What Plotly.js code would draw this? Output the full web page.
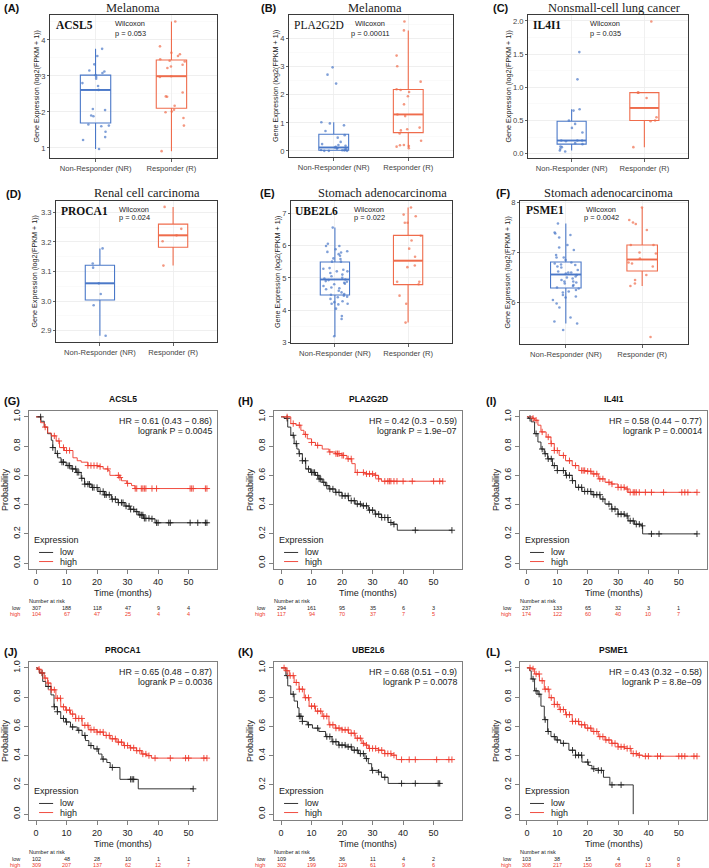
<!DOCTYPE html>
<html><head><meta charset="utf-8">
<script src="https://cdn.plot.ly/plotly-3.0.1.min.js"></script>
<style>html,body{margin:0;padding:0;background:#fff}#chart{width:709px;height:868px}</style>
</head><body><div id="chart"></div>
<script>
// ---------------- DATA ----------------
const groupLabels = ['Non-Responder (NR)', 'Responder (R)'];
const boxLetters = ['(A)', '(B)', '(C)', '(D)', '(E)', '(F)'];
const boxCancers = ['Melanoma', 'Melanoma', 'Nonsmall-cell lung cancer', 'Renal cell carcinoma', 'Stomach adenocarcinoma', 'Stomach adenocarcinoma'];
const boxGenes = ['ACSL5', 'PLA2G2D', 'IL4I1', 'PROCA1', 'UBE2L6', 'PSME1'];
const wilcoxonP = ['0.053', '0.00011', '0.035', '0.024', '0.022', '0.0042'];
// box statistics per panel: [NR, R]
const boxQ1 = [[1.69, 2.10], [0.02, 0.65], [0.145, 0.50], [3.004, 3.182], [4.47, 4.79], [6.29, 6.63]];
const boxMedian = [[2.61, 2.99], [0.12, 1.30], [0.20, 0.69], [3.06, 3.222], [4.95, 5.53], [6.56, 6.86]];
const boxQ3 = [[3.02, 3.44], [0.59, 2.19], [0.49, 0.92], [3.121, 3.26], [5.49, 6.31], [6.81, 7.15]];
const boxLow = [[0.97, 0.91], [0.0, 0.11], [0.05, 0.10], [2.883, 3.12], [3.2, 3.62], [5.58, 6.33]];
const boxHigh = [[3.75, 4.51], [1.02, 4.30], [0.67, 0.92], [3.178, 3.318], [6.55, 7.17], [7.58, 7.90]];
// sample points
const acsl5NR = [3.75, 3.55, 3.32, 3.15, 3.12, 3.08, 3.02, 2.97, 2.92, 2.80, 2.72, 2.61, 2.08, 2.05, 1.90, 1.88, 1.65, 1.62, 1.60, 1.45, 1.30, 1.22, 0.97];
const acsl5R = [4.51, 3.82, 3.64, 3.60, 3.55, 3.46, 3.42, 3.40, 3.31, 3.26, 3.22, 2.99, 2.97, 2.54, 2.43, 2.42, 2.17, 2.06, 2.01, 1.99, 1.83, 1.62, 0.91];
const pla2g2dNR = [2.98, 2.72, 2.40, 1.02, 0.98, 0.91, 0.71, 0.56, 0.47, 0.32, 0.24, 0.21, 0.18, 0.14, 0.12, 0.10, 0.08, 0.06, 0.05, 0.03, 0.02, 0.01, 0.0, 0.0, 0.0];
const pla2g2dR = [4.62, 4.30, 3.40, 3.02, 2.47, 2.20, 2.17, 2.10, 1.95, 1.66, 1.30, 1.24, 0.83, 0.77, 0.73, 0.62, 0.36, 0.21, 0.20, 0.17, 0.15, 0.09];
const il4i1NR = [1.53, 1.12, 0.67, 0.65, 0.50, 0.45, 0.39, 0.32, 0.20, 0.20, 0.19, 0.20, 0.16, 0.145, 0.11, 0.10, 0.075, 0.05, 0.035];
const il4i1R = [1.99, 0.92, 0.92, 0.84, 0.55, 0.50, 0.49, 0.10];
const proca1NR = [3.178, 3.127, 3.113, 3.06, 3.024, 2.986, 2.883];
const proca1R = [3.318, 3.244, 3.222, 3.202, 3.12];
const ube2l6NR = [6.55, 6.05, 5.98, 5.98, 5.88, 5.82, 5.80, 5.78, 5.73, 5.68, 5.60, 5.58, 5.50, 5.50, 5.30, 5.28, 5.25, 5.20, 5.20, 5.15, 5.10, 5.05, 5.00, 4.98, 4.95, 4.93, 4.90, 4.88, 4.85, 4.82, 4.80, 4.75, 4.70, 4.68, 4.65, 4.60, 4.55, 4.50, 4.48, 4.45, 4.42, 4.40, 4.35, 4.28, 4.25, 4.20, 4.20, 4.18, 4.05, 3.82, 3.73, 3.20];
const ube2l6R = [7.17, 6.95, 6.90, 6.70, 6.70, 6.30, 6.15, 5.90, 5.65, 5.38, 5.33, 4.88, 4.88, 4.80, 4.45, 4.20, 3.62];
const psme1NR = [7.58, 7.40, 7.38, 7.35, 7.30, 7.15, 7.10, 7.05, 6.95, 6.90, 6.90, 6.85, 6.80, 6.78, 6.76, 6.75, 6.72, 6.70, 6.65, 6.62, 6.60, 6.60, 6.58, 6.55, 6.52, 6.50, 6.48, 6.45, 6.42, 6.42, 6.40, 6.38, 6.35, 6.33, 6.30, 6.28, 6.25, 6.22, 6.20, 6.15, 6.12, 6.10, 6.05, 5.98, 5.90, 5.70, 5.62, 5.58, 5.45];
const psme1R = [7.90, 7.65, 7.60, 7.57, 7.45, 7.15, 7.15, 7.00, 6.98, 6.88, 6.80, 6.78, 6.72, 6.55, 6.45, 6.38, 6.33, 5.31];
const boxYTicks = [[1, 2, 3, 4], [0, 1, 2, 3, 4], [0, 0.5, 1, 1.5, 2], [2.9, 3.0, 3.1, 3.2, 3.3], [3, 4, 5, 6, 7], [6, 7, 8]];
const boxYTickText = [['1', '2', '3', '4'], ['0', '1', '2', '3', '4'], ['0.0', '0.5', '1.0', '1.5', '2.0'], ['2.9', '3.0', '3.1', '3.2', '3.3'], ['3', '4', '5', '6', '7'], ['6', '7', '8']];

// Kaplan-Meier
const kmLetters = ['(G)', '(H)', '(I)', '(J)', '(K)', '(L)'];
const kmGenes = ['ACSL5', 'PLA2G2D', 'IL4I1', 'PROCA1', 'UBE2L6', 'PSME1'];
const kmHR = ['HR = 0.61 (0.43 \u2212 0.86)', 'HR = 0.42 (0.3 \u2212 0.59)', 'HR = 0.58 (0.44 \u2212 0.77)', 'HR = 0.65 (0.48 \u2212 0.87)', 'HR = 0.68 (0.51 \u2212 0.9)', 'HR = 0.43 (0.32 \u2212 0.58)'];
const kmP = ['logrank P = 0.0045', 'logrank P = 1.9e\u221207', 'logrank P = 0.00014', 'logrank P = 0.0036', 'logrank P = 0.0078', 'logrank P = 8.8e\u221209'];
const riskTimes = [0, 10, 20, 30, 40, 50];
const riskLow = [[307, 188, 118, 47, 9, 4], [294, 161, 95, 35, 6, 3], [237, 133, 65, 32, 3, 1], [102, 48, 28, 10, 1, 1], [109, 56, 36, 11, 4, 2], [103, 38, 15, 4, 0, 0]];
const riskHigh = [[104, 67, 47, 25, 4, 4], [117, 94, 70, 37, 7, 5], [174, 122, 60, 40, 10, 7], [309, 207, 137, 62, 12, 7], [302, 199, 129, 61, 9, 6], [308, 217, 150, 68, 13, 8]];

const acsl5_lowT = [0, 1.6, 2.7, 3.8, 5.0, 5.5, 6.3, 7.1, 8.2, 9.9, 11.5, 13.2, 14.8, 15.9, 18.1, 20.3, 22.5, 24.7, 26.9, 29.1, 30.8, 32.4, 33.5, 35.2, 37.4, 39.0, 56.0];
const acsl5_lowS = [1.0, 0.97, 0.93, 0.885, 0.84, 0.79, 0.75, 0.72, 0.69, 0.667, 0.644, 0.62, 0.58, 0.54, 0.517, 0.49, 0.467, 0.437, 0.414, 0.39, 0.368, 0.352, 0.33, 0.306, 0.303, 0.276, 0.276];
const acsl5_highT = [0, 1.5, 2.7, 3.8, 5.0, 6.6, 7.7, 9.3, 12.1, 13.5, 14.8, 17.0, 20.3, 22.0, 23.6, 24.2, 27.5, 28.0, 29.7, 31.3, 32.4, 56.0];
const acsl5_highS = [1.0, 0.96, 0.93, 0.89, 0.87, 0.835, 0.79, 0.77, 0.72, 0.70, 0.69, 0.667, 0.66, 0.644, 0.632, 0.60, 0.585, 0.563, 0.545, 0.53, 0.51, 0.51];
const acsl5_lowC = [1.5, 5.5, 7, 8.5, 9, 10.5, 11, 12, 13, 13.5, 14, 15, 16, 17, 17.5, 18.5, 19, 20, 21, 22, 22.5, 23, 24, 25, 26, 27, 28, 28.5, 29.5, 30.5, 31, 32, 33, 34, 34.5, 35, 35.5, 36, 37, 38, 39.5, 40, 43.5, 44, 50.5, 53, 55.5, 56];
const acsl5_highC = [3, 6, 7.5, 9, 10, 11, 17, 18, 19, 20, 21, 23.5, 27, 27.5, 30, 32.5, 33, 34.5, 35, 35.5, 36, 38, 39.5, 50.5, 51, 51.5, 55.5, 56];

const pla2g2d_lowT = [0, 1.0, 2.2, 3.2, 4.3, 5.2, 5.9, 7.0, 8.1, 9.7, 11.3, 12.4, 13.5, 14.6, 15.7, 17.8, 20.0, 22.1, 24.3, 26.5, 28.6, 30.8, 32.9, 35.1, 36.7, 38.1, 56.0];
const pla2g2d_lowS = [1.0, 0.99, 0.93, 0.874, 0.817, 0.78, 0.748, 0.70, 0.644, 0.62, 0.60, 0.575, 0.553, 0.53, 0.507, 0.484, 0.46, 0.427, 0.404, 0.392, 0.362, 0.335, 0.312, 0.278, 0.266, 0.225, 0.225];
const pla2g2d_highT = [0, 3.2, 4.9, 6.5, 7.5, 8.6, 10.0, 11.3, 13.5, 15.7, 17.8, 20.0, 21.6, 23.2, 24.3, 27.5, 30.8, 31.9, 32.9, 53.0];
const pla2g2d_highS = [1.0, 0.954, 0.943, 0.908, 0.88, 0.85, 0.825, 0.805, 0.78, 0.76, 0.748, 0.736, 0.713, 0.68, 0.62, 0.61, 0.60, 0.576, 0.56, 0.56];
const pla2g2d_lowC = [2, 4, 5, 6, 7, 8, 9, 10, 10.5, 11, 12, 12.5, 13, 14, 15, 16, 17, 18, 19, 20, 21, 22, 23, 24, 25, 26, 27, 28, 29, 30, 31, 32, 33, 34, 35, 36, 37, 44, 56];
const pla2g2d_highC = [2, 4, 6, 8, 10, 12, 16, 18, 18.5, 19, 20, 20.5, 22, 23, 25, 27, 28, 29, 30, 31, 32, 34, 35, 35.5, 36, 37, 38, 40, 43, 50, 52, 53];

const il4i1_lowT = [0, 0.5, 1.4, 2.5, 3.6, 4.6, 5.7, 6.8, 8.4, 10.0, 12.7, 14.9, 16.0, 18.1, 21.4, 24.1, 25.7, 27.9, 30.0, 32.2, 33.3, 35.4, 37.6, 38.1, 56.0];
const il4i1_lowS = [1.0, 0.99, 0.966, 0.885, 0.828, 0.78, 0.748, 0.713, 0.667, 0.633, 0.60, 0.564, 0.518, 0.49, 0.468, 0.438, 0.404, 0.37, 0.335, 0.323, 0.289, 0.266, 0.255, 0.20, 0.20];
const il4i1_highT = [0, 2.0, 2.5, 3.6, 4.6, 6.3, 7.9, 9.0, 10.6, 12.7, 14.9, 17.1, 19.2, 21.4, 23.5, 25.7, 27.9, 30.0, 32.2, 33.3, 56.0];
const il4i1_highS = [1.0, 0.99, 0.977, 0.943, 0.897, 0.862, 0.817, 0.77, 0.736, 0.70, 0.667, 0.633, 0.628, 0.61, 0.576, 0.553, 0.541, 0.518, 0.507, 0.484, 0.484];
const il4i1_lowC = [1, 3, 5, 6, 7, 8, 9, 10, 12, 13, 14, 15, 17, 18, 19, 20, 21, 22, 23, 24, 25, 27, 28, 29, 30, 31, 32, 33, 34, 35, 36, 37, 38, 41, 43.5, 56];
const il4i1_highC = [2, 3, 5, 7, 8, 9, 10, 12, 14, 16, 18, 18.5, 19, 20, 21, 22, 23, 24, 25, 27, 28, 30, 31, 32, 33, 34, 35, 35.5, 36, 37, 39, 41, 45, 51, 52, 53, 56];

const proca1_lowT = [0, 0.5, 1.1, 2.2, 3.2, 4.9, 5.9, 7.0, 8.1, 9.7, 11.3, 13.5, 15.1, 16.2, 17.3, 18.9, 20.5, 21.6, 23.2, 24.3, 27.5, 33.5, 51.5];
const proca1_lowS = [1.0, 0.99, 0.965, 0.907, 0.873, 0.815, 0.734, 0.70, 0.654, 0.63, 0.596, 0.573, 0.538, 0.503, 0.469, 0.446, 0.411, 0.376, 0.353, 0.319, 0.238, 0.173, 0.173];
const proca1_highT = [0, 1.0, 1.6, 2.7, 3.8, 4.9, 6.5, 8.1, 9.7, 11.3, 13.0, 15.1, 17.3, 20.0, 22.1, 24.3, 26.5, 28.6, 30.8, 32.9, 34.6, 36.2, 37.8, 56.0];
const proca1_highS = [1.0, 0.99, 0.965, 0.93, 0.896, 0.85, 0.792, 0.734, 0.711, 0.684, 0.654, 0.607, 0.577, 0.561, 0.538, 0.515, 0.492, 0.469, 0.453, 0.434, 0.411, 0.40, 0.383, 0.383];
const proca1_lowC = [2, 4, 6, 7, 9, 10, 12, 14, 16, 18, 20, 22, 25, 31, 31.5, 32, 51.5];
const proca1_highC = [1, 2, 3, 4, 5, 6, 7, 8, 9, 10, 11, 12, 13, 14, 15, 16, 17, 18, 19, 20, 21, 22, 23, 24, 25, 26, 27, 28, 29, 30, 31, 32, 33, 34, 35, 36, 37, 39, 44, 49, 50, 55, 56];

const ube2l6_lowT = [0, 1.6, 2.2, 3.2, 4.3, 5.4, 5.9, 7.0, 8.6, 10.3, 12.4, 14.6, 16.7, 18.9, 21.1, 23.2, 25.4, 27.5, 28.6, 29.7, 31.9, 32.9, 35.1, 52.0];
const ube2l6_lowS = [1.0, 0.947, 0.877, 0.82, 0.773, 0.727, 0.669, 0.634, 0.611, 0.588, 0.565, 0.53, 0.495, 0.472, 0.46, 0.437, 0.414, 0.38, 0.345, 0.299, 0.287, 0.252, 0.21, 0.21];
const ube2l6_highT = [0, 1.6, 2.7, 4.3, 5.9, 7.6, 9.2, 11.3, 13.5, 15.7, 17.8, 20.0, 22.1, 24.3, 26.5, 27.5, 28.6, 31.9, 34.0, 36.2, 37.8, 56.0];
const ube2l6_highS = [1.0, 0.98, 0.947, 0.90, 0.854, 0.796, 0.738, 0.704, 0.669, 0.611, 0.588, 0.576, 0.553, 0.519, 0.484, 0.472, 0.449, 0.437, 0.414, 0.403, 0.373, 0.373];
const ube2l6_lowC = [2, 4, 6, 6.5, 7, 9, 12, 15, 16, 17, 18, 19, 20, 21, 22, 23, 24, 25, 26, 27, 28, 30, 32, 34, 39.5, 44, 51.5, 52];
const ube2l6_highC = [1, 2, 3, 4, 5, 6, 7, 8, 9, 10, 11, 12, 13, 14, 15, 16, 17, 18, 19, 20, 21, 22, 23, 24, 25, 26, 27, 28, 29, 30, 31, 32, 33, 34, 35, 36, 37, 39.5, 42, 44, 51, 55, 56];

const psme1_lowT = [0, 0.9, 1.4, 2.5, 3.6, 4.6, 5.7, 6.8, 7.9, 9.5, 11.1, 13.8, 16.0, 18.1, 20.3, 21.4, 23.5, 25.2, 27.3, 35.0];
const psme1_lowS = [1.0, 0.98, 0.924, 0.843, 0.82, 0.738, 0.646, 0.565, 0.53, 0.507, 0.484, 0.437, 0.403, 0.356, 0.333, 0.31, 0.299, 0.252, 0.20, 0.0];
const psme1_highT = [0, 1.4, 2.5, 4.1, 5.7, 7.3, 9.0, 10.6, 12.7, 14.9, 17.1, 19.2, 21.4, 23.5, 25.7, 27.9, 30.0, 32.2, 34.3, 36.5, 38.1, 56.0];
const psme1_highS = [1.0, 0.993, 0.958, 0.912, 0.854, 0.796, 0.75, 0.715, 0.68, 0.634, 0.611, 0.588, 0.565, 0.53, 0.507, 0.484, 0.46, 0.449, 0.414, 0.403, 0.396, 0.396];
const psme1_lowC = [2, 3, 4, 6, 7, 9, 10, 12, 15, 16, 17, 18, 20, 22, 23.5, 24.5, 28, 31];
const psme1_highC = [1, 2, 3, 4, 5, 6, 7, 8, 9, 10, 11, 12, 13, 14, 15, 16, 17, 18, 19, 20, 21, 22, 23, 24, 25, 26, 27, 28, 29, 30, 31, 32, 33, 34, 35, 36, 37, 39, 40, 43, 44, 50, 51, 52, 55, 56];

// ---------------- RENDERING ----------------
const W = 709, H = 868;
const px = x => x / W;
const py = y => 1 - y / H;
const SANS = 'Liberation Sans, Arial, sans-serif';
const SERIF = 'Liberation Serif, Times New Roman, serif';
// pick a narrow sans if installed, else shrink regular sans
function textWidth(fam, txt) { const c = document.createElement('canvas').getContext('2d'); c.font = '20px ' + fam; return c.measureText(txt).width; }
const probe = 'Time (months) Probability Expression';
const hasNarrow = textWidth('"Liberation Sans Narrow", monospace', probe) < 0.9 * textWidth('"Liberation Sans", monospace', probe);
const NARROW = hasNarrow ? '"Liberation Sans Narrow", Liberation Sans, sans-serif' : SANS;
const NS = hasNarrow ? 1 : 0.86;

const groupColors = ['#4a78c8', '#ef6c4c'];
const pointColors = ['rgba(74,120,200,0.7)', 'rgba(239,108,76,0.7)'];
const lowColor = '#1e1e1e', highColor = '#ee3a2c';

const traces = [], annotations = [], shapes = [];
const layout = {width: W, height: H, margin: {l: 0, r: 0, t: 0, b: 0}, paper_bgcolor: '#fff', plot_bgcolor: 'rgba(0,0,0,0)', showlegend: false, annotations, shapes, hovermode: false};

function ann(text, x, y, o) {
  annotations.push(Object.assign({text: text, x: px(x), y: py(y), xref: 'paper', yref: 'paper', showarrow: false, xanchor: 'center', yanchor: 'middle', borderpad: 0, font: {family: SANS, size: 8, color: '#222'}}, o || {}));
}
function jitter(seed) { const s = Math.sin(seed * 12.9898 + 78.233) * 43758.5453; return ((s - Math.floor(s)) - 0.5) * 0.36; }

// box panels
const boxPoints = [[acsl5NR, acsl5R], [pla2g2dNR, pla2g2dR], [il4i1NR, il4i1R], [proca1NR, proca1R], [ube2l6NR, ube2l6R], [psme1NR, psme1R]];
const boxRects = [[50, 217, 15, 158], [289, 453, 15, 157], [528, 688, 15, 158], [56, 217, 201, 342], [291, 452, 201, 343], [520, 688, 201, 344]];
const boxRanges = [[0.72, 4.69], [-0.22, 4.85], [-0.063, 2.088], [2.862, 3.338], [2.99, 7.37], [5.17, 8.03]];
const boxMinor = [0.5, 0.5, 0.25, 0.05, 0.5, 0.5];
const letterPos = [[3, 8], [260, 8], [492, 8], [5, 194], [259, 193], [495, 193]];
const titlePos = [[133, 8], [375, 8], [614, 8], [147, 193], [382, 193], [608, 193]];
const genePos = [[55, 25], [293, 25], [532, 25], [60, 211], [294, 211], [525, 210]];
const wilcPos = [[130, 24], [370, 24], [605, 24], [134, 209], [369, 209], [601, 209]];
const ytitleX = [36, 276, 508, 34, 277, 507];

for (let i = 0; i < 6; i++) {
  const n = i + 1, xa = 'x' + n, ya = 'y' + n;
  const [l, r, t, b] = boxRects[i];
  layout['xaxis' + n] = {domain: [px(l), px(r)], anchor: ya, range: [-0.6, 1.6], tickmode: 'array', tickvals: [0, 1], ticktext: groupLabels,
    showline: true, mirror: true, linecolor: '#3a3a3a', linewidth: 1, ticks: 'outside', ticklen: 2.5, tickcolor: '#3a3a3a', tickwidth: 0.8,
    tickfont: {family: SANS, size: 7.6, color: '#444'}, showgrid: true, gridcolor: '#ececec', gridwidth: 0.8, zeroline: false, fixedrange: true};
  layout['yaxis' + n] = {domain: [py(b), py(t)], anchor: xa, range: boxRanges[i], tickmode: 'array', tickvals: boxYTicks[i], ticktext: boxYTickText[i],
    showline: true, mirror: true, linecolor: '#3a3a3a', linewidth: 1, ticks: 'outside', ticklen: 2, tickcolor: '#3a3a3a', tickwidth: 0.8,
    tickfont: {family: SANS, size: 7.6, color: '#444'}, showgrid: true, gridcolor: '#ececec', gridwidth: 0.8, zeroline: false, fixedrange: true,
    minor: {tickmode: 'linear', tick0: boxYTicks[i][0], dtick: boxMinor[i], showgrid: true, gridcolor: '#f6f6f6', gridwidth: 0.6, ticks: ''}};
  for (let g = 0; g < 2; g++) {
    traces.push({type: 'box', x: [g], q1: [boxQ1[i][g]], median: [boxMedian[i][g]], q3: [boxQ3[i][g]], lowerfence: [boxLow[i][g]], upperfence: [boxHigh[i][g]],
      width: 0.4, whiskerwidth: 0, boxpoints: false, fillcolor: 'rgba(255,255,255,0)', line: {color: groupColors[g], width: 1.1}, xaxis: xa, yaxis: ya, hoverinfo: 'skip'});
    traces.push({type: 'scatter', mode: 'lines', x: [g - 0.2, g + 0.2], y: [boxMedian[i][g], boxMedian[i][g]], line: {color: groupColors[g], width: 1.9}, xaxis: xa, yaxis: ya, hoverinfo: 'skip'});
    const pts = boxPoints[i][g];
    traces.push({type: 'scatter', mode: 'markers', x: pts.map((v, k) => g + jitter(i * 97 + g * 41 + k + 1)), y: pts,
      marker: {size: 2.6, color: pointColors[g]}, xaxis: xa, yaxis: ya, hoverinfo: 'skip'});
  }
  ann('<b>' + boxLetters[i] + '</b>', letterPos[i][0], letterPos[i][1], {xanchor: 'left', font: {family: SANS, size: 11, color: '#111'}});
  ann(boxCancers[i], titlePos[i][0], titlePos[i][1], {font: {family: SERIF, size: 12.5, color: '#222'}});
  ann(i === 1 ? boxGenes[i] : '<b>' + boxGenes[i] + '</b>', genePos[i][0], genePos[i][1], {xanchor: 'left', font: {family: SERIF, size: 11.5, color: '#111'}});
  ann('Wilcoxon', wilcPos[i][0], wilcPos[i][1], {font: {family: SANS, size: 7.4, color: '#222'}});
  ann('p = ' + wilcoxonP[i], wilcPos[i][0], wilcPos[i][1] + 9, {font: {family: SANS, size: 7.4, color: '#222'}});
  ann('Gene Expression (log2(FPKM + 1))', ytitleX[i], (t + b) / 2, {textangle: -90, font: {family: SANS, size: 7.2, color: '#222'}});
}

// KM panels
const kmLowT = [acsl5_lowT, pla2g2d_lowT, il4i1_lowT, proca1_lowT, ube2l6_lowT, psme1_lowT];
const kmLowS = [acsl5_lowS, pla2g2d_lowS, il4i1_lowS, proca1_lowS, ube2l6_lowS, psme1_lowS];
const kmHighT = [acsl5_highT, pla2g2d_highT, il4i1_highT, proca1_highT, ube2l6_highT, psme1_highT];
const kmHighS = [acsl5_highS, pla2g2d_highS, il4i1_highS, proca1_highS, ube2l6_highS, psme1_highS];
const kmLowC = [acsl5_lowC, pla2g2d_lowC, il4i1_lowC, proca1_lowC, ube2l6_lowC, psme1_lowC];
const kmHighC = [acsl5_highC, pla2g2d_highC, il4i1_highC, proca1_highC, ube2l6_highC, psme1_highC];
const kmRects = [[29, 217, 411, 569], [274, 462, 411, 569], [520, 707, 411, 569], [29, 217, 662, 820], [274, 462, 662, 820], [520, 707, 662, 820]];
const kmLetterX = [3, 237, 485, 3, 237, 485];

function survAt(T, S, t) { let v = S[0]; for (let k = 0; k < T.length; k++) { if (T[k] <= t) v = S[k]; else break; } return v; }

const kmFont = s => ({family: NARROW, size: s * NS, color: '#222'});
for (let j = 0; j < 6; j++) {
  const n = j + 7, xa = 'x' + n, ya = 'y' + n;
  const [l, r, t, b] = kmRects[j];
  const axCommon = {showline: true, mirror: true, linecolor: '#808080', linewidth: 1, ticks: 'outside', ticklen: 4, tickcolor: '#808080', tickwidth: 1,
    tickfont: kmFont(10.5), showgrid: false, zeroline: false, fixedrange: true};
  layout['xaxis' + n] = Object.assign({domain: [px(l), px(r)], anchor: ya, range: [-2.3, 59.3], tickmode: 'array', tickvals: riskTimes}, axCommon);
  layout['yaxis' + n] = Object.assign({domain: [py(b), py(t)], anchor: xa, range: [-0.04, 1.04], tickmode: 'array', tickvals: [0, 0.2, 0.4, 0.6, 0.8, 1.0],
    ticktext: ['0.0', '0.2', '0.4', '0.6', '0.8', '1.0'], tickangle: -90}, axCommon);
  traces.push({type: 'scatter', mode: 'lines', x: kmLowT[j], y: kmLowS[j], line: {color: lowColor, width: 0.9, shape: 'hv'}, xaxis: xa, yaxis: ya, hoverinfo: 'skip'});
  traces.push({type: 'scatter', mode: 'lines', x: kmHighT[j], y: kmHighS[j], line: {color: highColor, width: 0.9, shape: 'hv'}, xaxis: xa, yaxis: ya, hoverinfo: 'skip'});
  traces.push({type: 'scatter', mode: 'markers', x: kmLowC[j], y: kmLowC[j].map(c => survAt(kmLowT[j], kmLowS[j], c)),
    marker: {symbol: 'cross-thin', size: 4.5, color: lowColor, line: {color: lowColor, width: 0.9}}, xaxis: xa, yaxis: ya, hoverinfo: 'skip'});
  traces.push({type: 'scatter', mode: 'markers', x: kmHighC[j], y: kmHighC[j].map(c => survAt(kmHighT[j], kmHighS[j], c)),
    marker: {symbol: 'cross-thin', size: 4.5, color: highColor, line: {color: highColor, width: 0.9}}, xaxis: xa, yaxis: ya, hoverinfo: 'skip'});

  ann('<b>' + kmLetters[j] + '</b>', kmLetterX[j], t - 10, {xanchor: 'left', font: {family: SANS, size: 11, color: '#111'}});
  ann('<b>' + kmGenes[j] + '</b>', (l + r) / 2, t - 12, {font: {family: SANS, size: 8.5, color: '#111'}});
  ann('Time (months)', (l + r) / 2, b + 24, {font: kmFont(10.5)});
  ann('Probability', l - 24, (t + b) / 2, {textangle: -90, font: kmFont(10.5)});
  // HR text
  annotations.push({text: kmHR[j], x: 58.4, y: 0.975, xref: xa, yref: ya, xanchor: 'right', yanchor: 'middle', showarrow: false, font: kmFont(10.3)});
  annotations.push({text: kmP[j], x: 58.4, y: 0.905, xref: xa, yref: ya, xanchor: 'right', yanchor: 'middle', showarrow: false, font: kmFont(10.3)});
  // legend
  annotations.push({text: 'Expression', x: -1.3, y: 0.158, xref: xa, yref: ya, xanchor: 'left', yanchor: 'middle', showarrow: false, font: kmFont(10.5)});
  annotations.push({text: 'low', x: 7.3, y: 0.073, xref: xa, yref: ya, xanchor: 'left', yanchor: 'middle', showarrow: false, font: kmFont(10.5)});
  annotations.push({text: 'high', x: 7.3, y: 0.011, xref: xa, yref: ya, xanchor: 'left', yanchor: 'middle', showarrow: false, font: kmFont(10.5)});
  shapes.push({type: 'line', xref: xa, yref: ya, x0: 1, x1: 5.6, y0: 0.073, y1: 0.073, line: {color: lowColor, width: 0.9}});
  shapes.push({type: 'line', xref: xa, yref: ya, x0: 1, x1: 5.6, y0: 0.011, y1: 0.011, line: {color: highColor, width: 0.9}});
  // risk table
  const rf = 6.4 * NS, rfH = {family: NARROW, size: rf, color: highColor}, rfL = {family: NARROW, size: rf, color: '#222'};
  ann('Number at risk', l - 1, b + 31.8, {xanchor: 'left', font: rfL});
  ann('low', l - 8, b + 38.6, {xanchor: 'right', font: rfL});
  ann('high', l - 8, b + 45.4, {xanchor: 'right', font: rfH});
  for (let k = 0; k < riskTimes.length; k++) {
    annotations.push({text: String(riskLow[j][k]), x: riskTimes[k], y: py(b + 38.6), xref: xa, yref: 'paper', xanchor: 'center', yanchor: 'middle', showarrow: false, font: rfL});
    annotations.push({text: String(riskHigh[j][k]), x: riskTimes[k], y: py(b + 45.4), xref: xa, yref: 'paper', xanchor: 'center', yanchor: 'middle', showarrow: false, font: rfH});
  }
}

Plotly.newPlot('chart', traces, layout, {staticPlot: true, displayModeBar: false});
</script></body></html>
